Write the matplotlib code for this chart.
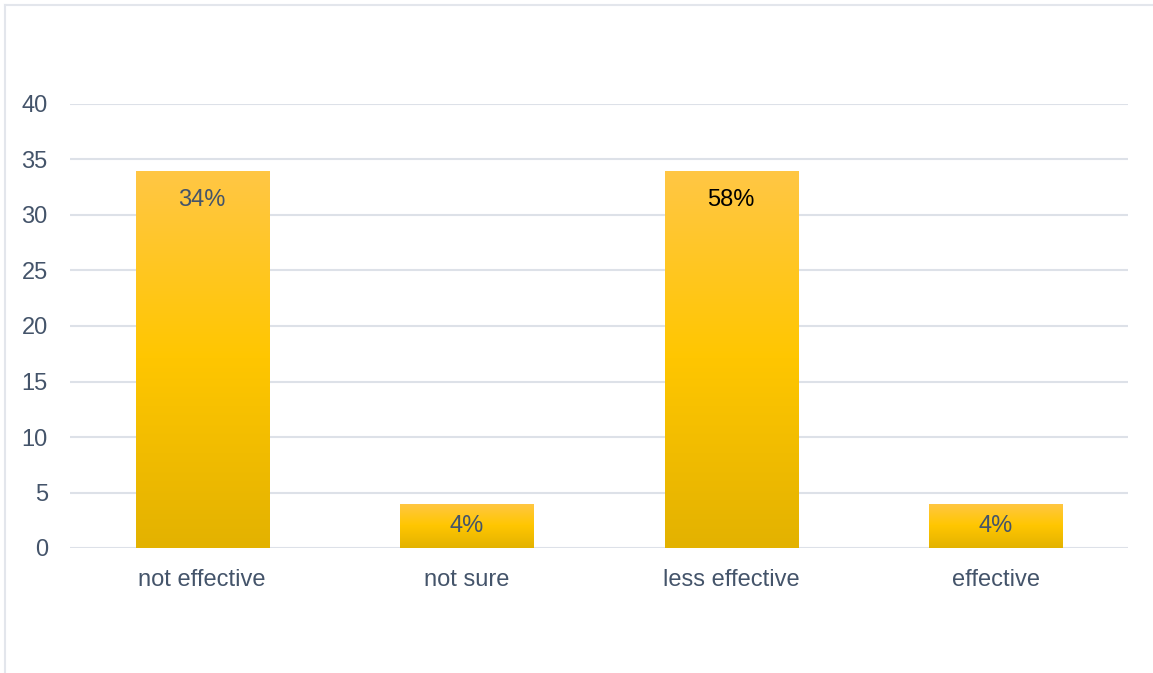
import matplotlib
matplotlib.use("Agg")
import matplotlib.pyplot as plt
import numpy as np
from matplotlib.colors import LinearSegmentedColormap
from matplotlib.lines import Line2D

categories = ["not effective", "not sure", "less effective", "effective"]
values = [34, 4, 34, 4]
labels = ["34%", "4%", "58%", "4%"]
label_colors = ["#44546A", "#44546A", "#000000", "#44546A"]

plt.rcParams["font.family"] = ["Liberation Sans", "DejaVu Sans"]
W, H = 1153, 673
fig = plt.figure(figsize=(W / 100, H / 100), dpi=100)
ax = fig.add_axes([70 / W, 1 - 548 / H, (1128 - 70) / W, (548 - 104) / H])

# faint frame on top and left, like the source screenshot
fig.add_artist(Line2D([5 / W, 1], [1 - 5 / H] * 2, color="#E3E6EC", lw=1.5))
fig.add_artist(Line2D([5 / W] * 2, [0, 1 - 5 / H], color="#E3E6EC", lw=1.5))

cmap = LinearSegmentedColormap.from_list(
    "gold", ["#E3B200", "#FFC600", "#FFC745"])
grad = np.linspace(0, 1, 256).reshape(-1, 1)

x = np.arange(len(categories))
width = 0.503
bars = ax.bar(x, values, width, color="none", edgecolor="none", zorder=3)
for rect in bars:
    x0, y0 = rect.get_x(), rect.get_y()
    w, h = rect.get_width(), rect.get_height()
    im = ax.imshow(grad, cmap=cmap, origin="lower", aspect="auto",
                   extent=(x0, x0 + w, y0, y0 + h), zorder=3)
    im.set_clip_path(rect)

# inside-end labels; short bars get them nearer the middle
for rect, lab, c in zip(bars, labels, label_colors):
    h = rect.get_height()
    ax.text(rect.get_x() + rect.get_width() / 2, h - min(2.62, h * 0.5), lab,
            ha="center", va="center", fontsize=17, color=c, zorder=4)

ax.set_xlim(-0.5, len(categories) - 0.5)
ax.set_ylim(0, 40)
ax.set_yticks(range(0, 41, 5))
ax.set_xticks(x)
ax.set_xticklabels(categories)
ax.tick_params(axis="both", length=0, labelsize=17, labelcolor="#44546A")
ax.tick_params(axis="y", pad=16)
ax.tick_params(axis="x", pad=15)
ax.grid(True, axis="y", color="#DDE1E8", lw=1.5, zorder=0)
ax.set_axisbelow(True)
for s in ax.spines.values():
    s.set_visible(False)

fig.savefig("out.png", dpi=100)
